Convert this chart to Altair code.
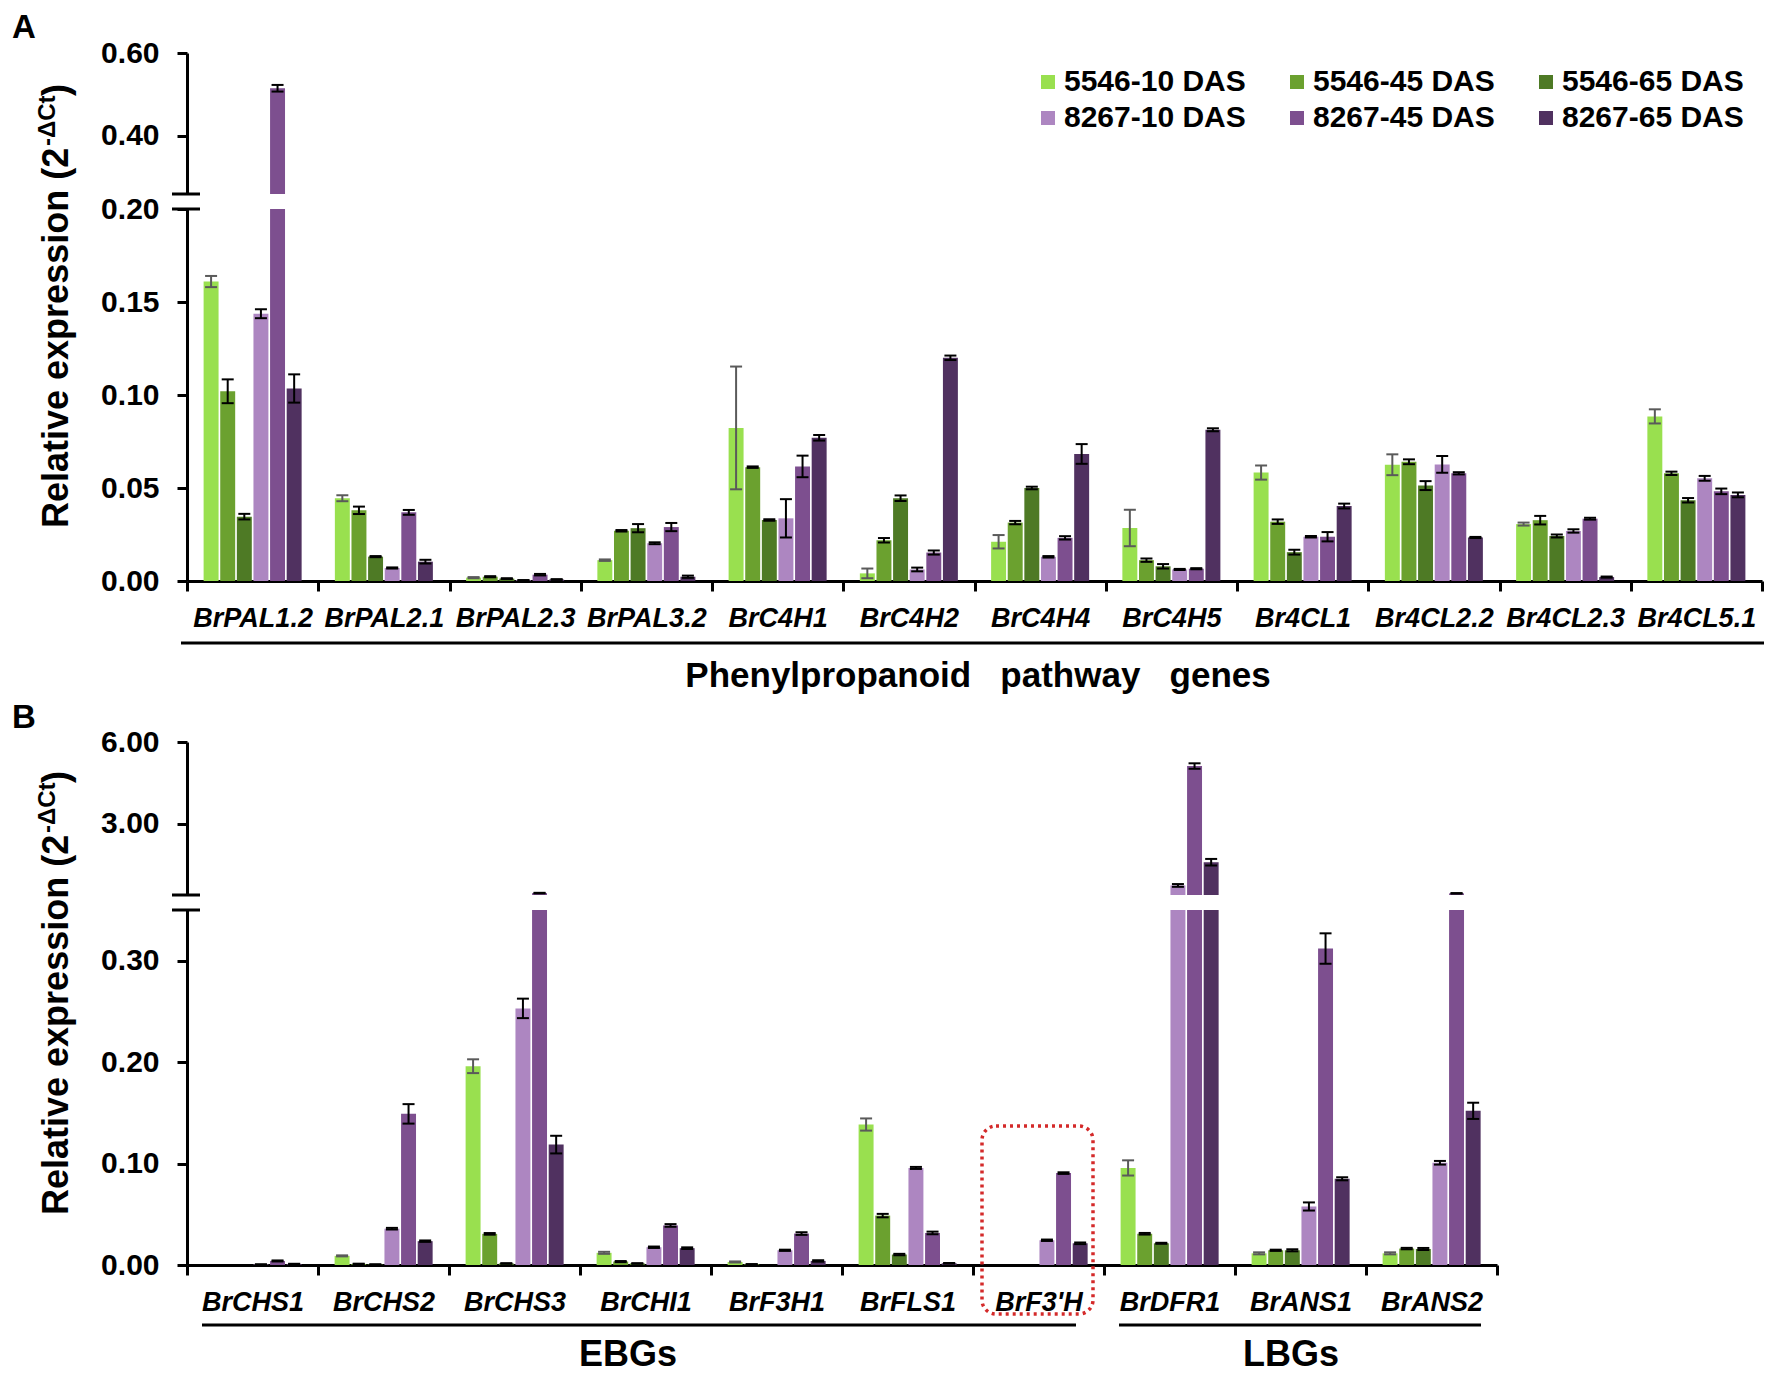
import altair as alt
import pandas as pd

SERIES = ["5546-10 DAS", "5546-45 DAS", "5546-65 DAS", "8267-10 DAS", "8267-45 DAS", "8267-65 DAS"]
COLORS = ["#99E04F", "#6BA12F", "#4E7A25", "#AD86C1", "#7D4F8F", "#503160"]
ERR_COLORS = ["#5a5a5a", "#000000", "#000000", "#000000", "#000000", "#000000"]
# legend is filled column by column, so list the entries column-wise
LEGEND_ORDER = [0, 3, 1, 4, 2, 5]

# ---------------- Panel A ----------------
GENES_A = ["BrPAL1.2", "BrPAL2.1", "BrPAL2.3", "BrPAL3.2", "BrC4H1", "BrC4H2",
           "BrC4H4", "BrC4H5", "Br4CL1", "Br4CL2.2", "Br4CL2.3", "Br4CL5.1"]
A_5546_10 = [0.161, 0.0445, 0.0018, 0.0112, 0.0823, 0.0041, 0.0211, 0.0285, 0.0583, 0.0625, 0.0306, 0.0885]
A_5546_10_SD = [0.003, 0.0016, 0.0003, 0.0004, 0.033, 0.0026, 0.0036, 0.0098, 0.0038, 0.0056, 0.0008, 0.0038]
A_5546_45 = [0.102, 0.038, 0.0023, 0.027, 0.0612, 0.0219, 0.0314, 0.0112, 0.0319, 0.0641, 0.0327, 0.0579]
A_5546_45_SD = [0.0064, 0.002, 0.0003, 0.0004, 0.0004, 0.0012, 0.0009, 0.0009, 0.0012, 0.0013, 0.0023, 0.0009]
A_5546_65 = [0.0346, 0.0131, 0.0013, 0.0284, 0.0328, 0.0445, 0.05, 0.0079, 0.0155, 0.0513, 0.0242, 0.0434]
A_5546_65_SD = [0.0015, 0.0003, 0.0002, 0.0022, 0.0004, 0.0015, 0.0007, 0.0012, 0.0013, 0.0024, 0.0008, 0.0012]
A_8267_10 = [0.1437, 0.007, 0.0004, 0.0203, 0.0337, 0.0062, 0.013, 0.0062, 0.0238, 0.0627, 0.0269, 0.0552]
A_8267_10_SD = [0.0024, 0.0003, 0.0001, 0.0005, 0.0103, 0.001, 0.0004, 0.0003, 0.0004, 0.0045, 0.0009, 0.0013]
A_8267_45 = [0.515, 0.0369, 0.0034, 0.029, 0.0616, 0.0153, 0.0232, 0.0066, 0.0238, 0.0579, 0.0335, 0.0482]
A_8267_45_SD = [0.008, 0.0013, 0.0004, 0.0022, 0.0058, 0.0011, 0.0009, 0.0003, 0.0025, 0.0006, 0.0005, 0.0015]
A_8267_65 = [0.1035, 0.0104, 0.0008, 0.0023, 0.077, 0.12, 0.0683, 0.0813, 0.0403, 0.0234, 0.0021, 0.0463]
A_8267_65_SD = [0.0076, 0.001, 0.0002, 0.0006, 0.0015, 0.0012, 0.0053, 0.0008, 0.0013, 0.0003, 0.0003, 0.0013]

# ---------------- Panel B ----------------
GENES_B = ["BrCHS1", "BrCHS2", "BrCHS3", "BrCHI1", "BrF3H1", "BrFLS1", "BrF3'H", "BrDFR1", "BrANS1", "BrANS2"]
B_5546_10 = [0.0, 0.009, 0.196, 0.012, 0.003, 0.1385, 0.0, 0.0957, 0.0115, 0.0115]
B_5546_10_SD = [0.0, 0.0005, 0.0068, 0.001, 0.0005, 0.006, 0.0, 0.0075, 0.001, 0.001]
B_5546_45 = [0.0, 0.001, 0.0307, 0.0034, 0.0007, 0.0487, 0.0, 0.0308, 0.0145, 0.0162]
B_5546_45_SD = [0.0, 0.0003, 0.0008, 0.0005, 0.0002, 0.0017, 0.0, 0.0008, 0.0006, 0.0007]
B_5546_65 = [0.0, 0.0005, 0.0015, 0.0015, 0.0, 0.0103, 0.0, 0.0214, 0.0145, 0.0158]
B_5546_65_SD = [0.0, 0.0002, 0.0003, 0.0003, 0.0, 0.0007, 0.0, 0.0005, 0.001, 0.001]
B_8267_10 = [0.0005, 0.0358, 0.253, 0.0175, 0.0145, 0.0957, 0.0244, 0.75, 0.0577, 0.1008]
B_8267_10_SD = [0.0002, 0.0008, 0.0096, 0.0007, 0.0006, 0.001, 0.0007, 0.05, 0.004, 0.0018]
B_8267_45 = [0.004, 0.149, 0.47, 0.039, 0.031, 0.0316, 0.0906, 5.12, 0.312, 0.46]
B_8267_45_SD = [0.0005, 0.0096, 0.01, 0.0013, 0.0013, 0.0013, 0.0008, 0.1, 0.015, 0.01]
B_8267_65 = [0.001, 0.0235, 0.1187, 0.0166, 0.004, 0.0017, 0.0214, 1.6, 0.085, 0.152]
B_8267_65_SD = [0.0002, 0.0007, 0.0087, 0.0008, 0.0007, 0.0003, 0.0008, 0.12, 0.0015, 0.008]

FONT = "Liberation Sans"
NB = "\u00a0"


def build_df(genes, vals, sds):
    rows = []
    for si, s in enumerate(SERIES):
        for gi, g in enumerate(genes):
            v = vals[si][gi]
            e = sds[si][gi]
            rows.append(dict(gene=g, series=s, value=v, lo=max(v - e, 0.0), hi=v + e,
                             ecol=ERR_COLORS[si], has=bool(v > 0 and e > 0)))
    return pd.DataFrame(rows)


df_a = build_df(GENES_A, [A_5546_10, A_5546_45, A_5546_65, A_8267_10, A_8267_45, A_8267_65],
                [A_5546_10_SD, A_5546_45_SD, A_5546_65_SD, A_8267_10_SD, A_8267_45_SD, A_8267_65_SD])
df_b = build_df(GENES_B, [B_5546_10, B_5546_45, B_5546_65, B_8267_10, B_8267_45, B_8267_65],
                [B_5546_10_SD, B_5546_45_SD, B_5546_65_SD, B_8267_10_SD, B_8267_45_SD, B_8267_65_SD])

COLOR_SCALE = alt.Scale(domain=[SERIES[i] for i in LEGEND_ORDER], range=[COLORS[i] for i in LEGEND_ORDER])


def panel(df, genes, width, height, domain, ticks, show_x, legend=None, break_at="top"):
    xaxis = alt.Axis(labelFont=FONT, labelFontSize=27, labelFontWeight="bold", labelFontStyle="italic",
                     labelColor="black", labelAngle=0, tickBand="extent", tickSize=10, tickWidth=3,
                     tickColor="black", domainWidth=3, domainColor="black", labelPadding=14,
                     labelLimit=300) if show_x else None
    x = alt.X("gene:N", sort=genes, title=None,
              scale=alt.Scale(domain=genes, paddingInner=0, paddingOuter=0), axis=xaxis)
    xo = alt.XOffset("series:N", sort=SERIES,
                     scale=alt.Scale(domain=SERIES, paddingInner=0.1, paddingOuter=1.0))
    yaxis = alt.Axis(values=ticks, format=".2f", labelFont=FONT, labelFontSize=30, labelFontWeight="bold",
                     labelColor="black", tickSize=10, tickWidth=3, tickColor="black", domainWidth=3,
                     domainColor="black", grid=False, labelPadding=18)
    yscale = alt.Scale(domain=domain, zero=False, nice=False)

    def yenc(field):
        return alt.Y(field, scale=yscale, axis=yaxis, title=None)

    color = alt.Color("series:N", scale=COLOR_SCALE, legend=legend)
    bars = alt.Chart(df).mark_bar(clip=True, opacity=1).encode(
        x=x, xOffset=xo, y=yenc("value:Q"), color=color)
    errs = alt.Chart(df).transform_filter("datum.has")
    ecol = alt.Color("ecol:N", scale=None)
    rules = errs.mark_rule(clip=True, strokeWidth=2, opacity=1).encode(
        x=x, xOffset=xo, y=yenc("lo:Q"), y2="hi:Q", color=ecol)
    cap_lo = errs.mark_tick(clip=True, thickness=2, size=12, opacity=1).encode(
        x=x, xOffset=xo, y=yenc("lo:Q"), color=ecol)
    cap_hi = errs.mark_tick(clip=True, thickness=2, size=12, opacity=1).encode(
        x=x, xOffset=xo, y=yenc("hi:Q"), color=ecol)
    brk_y = 0 if break_at == "top" else height
    brk = alt.Chart(pd.DataFrame({"k": [0]})).mark_rule(color="black", strokeWidth=3).encode(
        x=alt.value(-15), x2=alt.value(13), y=alt.value(brk_y))
    return alt.layer(bars, rules, cap_lo, cap_hi, brk).properties(width=width, height=height)


one = pd.DataFrame({"k": [0]})


def label(text, x, y, size, align="left", baseline="middle", angle=0, style="normal"):
    kw = dict(text=text, font=FONT, fontSize=size, fontWeight="bold", align=align,
              baseline=baseline, color="black", fontStyle=style)
    if angle:
        kw["angle"] = angle
    return alt.Chart(one).mark_text(**kw).encode(x=alt.value(x), y=alt.value(y))


def hline(x1, x2, y):
    return alt.Chart(one).mark_rule(color="black", strokeWidth=3).encode(
        x=alt.value(x1), x2=alt.value(x2), y=alt.value(y))


def ytitle(xc, ybottom):
    t1 = label("Relative expression (2", xc, ybottom, 36, angle=270)
    t2 = label("-\u0394Ct", xc - 9, ybottom - 382, 24, angle=270)
    t3 = label(")", xc, ybottom - 432, 36, angle=270)
    return [t1, t2, t3]


W_A, W_B = 1575, 1310
H_AU, H_AL, H_SP, H_BU, H_BL = 141, 372, 131, 153, 355

legend = alt.Legend(orient="none", legendX=846, legendY=14, columns=3, title=None,
                    labelFont=FONT, labelFontSize=30, labelFontWeight="bold", labelColor="black",
                    symbolType="square", symbolSize=196, symbolStrokeWidth=0, symbolOpacity=1,
                    labelOffset=1, columnPadding=36, rowPadding=6, labelLimit=400)

a_up = alt.layer(
    panel(df_a, GENES_A, W_A, H_AU, [0.26, 0.60], [0.40, 0.60], False, legend=legend, break_at="bottom"),
    label("A", -175, -25, 33, baseline="middle"),
).properties(width=W_A, height=H_AU)

a_low = alt.layer(
    panel(df_a, GENES_A, W_A, H_AL, [0.0, 0.20], [0.0, 0.05, 0.10, 0.15, 0.20], True),
    hline(-6, W_A + 2, H_AL + 62),
    label("Phenylpropanoid" + NB * 2 + " pathway" + NB * 2 + " genes", 791, H_AL + 95, 35, align="center"),
    *ytitle(-130, 319),
).properties(width=W_A, height=H_AL)

spacer = alt.Chart(one).mark_point(opacity=0).encode(
    x=alt.value(0), y=alt.value(0)).properties(width=W_B, height=H_SP)

b_up = alt.layer(
    panel(df_b, GENES_B, W_B, H_BU, [0.4, 6.0], [3.0, 6.0], False, break_at="bottom"),
    label("B", -175, -24, 33, baseline="middle"),
).properties(width=W_B, height=H_BU)

box = alt.Chart(one).mark_rect(filled=False, stroke="#d42a2a", strokeWidth=3.5, strokeDash=[3, 4],
                               cornerRadius=14).encode(
    x=alt.value(795), x2=alt.value(906), y=alt.value(216), y2=alt.value(404))

b_low = alt.layer(
    panel(df_b, GENES_B, W_B, H_BL, [0.0, 0.35], [0.0, 0.10, 0.20, 0.30], True),
    box,
    hline(15, 889, H_BL + 60),
    hline(932, 1294, H_BL + 60),
    label("EBGs", 441, H_BL + 90, 36, align="center"),
    label("LBGs", 1104, H_BL + 90, 36, align="center"),
    *ytitle(-130, 305),
).properties(width=W_B, height=H_BL)

chart = alt.vconcat(a_up, a_low, spacer, b_up, b_low, spacing=15, bounds="flush").properties(
    padding={"left": 4, "top": 4, "right": 0, "bottom": 0}
).configure(font=FONT, background="white").configure_view(strokeWidth=0, stroke="transparent")

chart.save("out.html", embed_options={"renderer": "svg", "actions": False})
